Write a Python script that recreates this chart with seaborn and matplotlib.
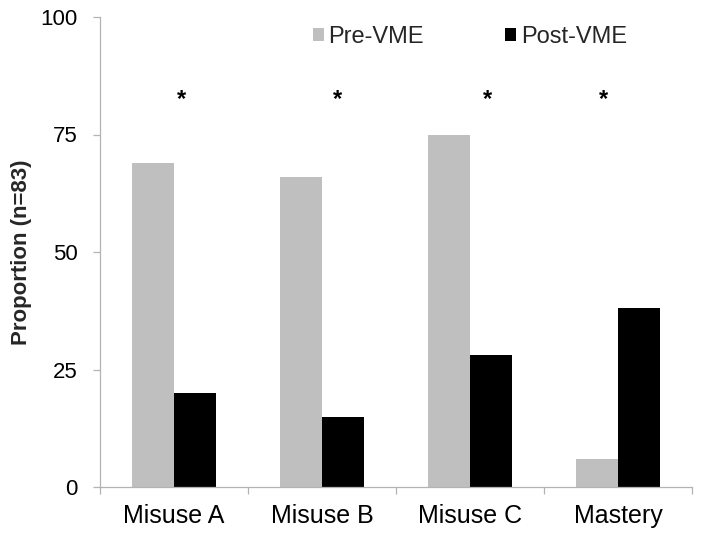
import matplotlib
matplotlib.use("Agg")
import matplotlib.pyplot as plt
import seaborn as sns
import pandas as pd

# ---- data ----
categories = ["Misuse A", "Misuse B", "Misuse C", "Mastery"]
pre_vme = [69, 66, 75, 6]
post_vme = [20, 15, 28, 38]
series_names = ["Pre-VME", "Post-VME"]
y_ticks = [0, 25, 50, 75, 100]
y_label = "Proportion (n=83)"
star_text = "*"
star_x = [0.054, 1.108, 2.115, 2.905]   # annotation positions (category units)
star_y = 81

sns.set_theme(style="white")
plt.rcParams["font.family"] = ["Liberation Sans", "DejaVu Sans"]

df = pd.DataFrame({
    "Category": categories * 2,
    "Series": [series_names[0]] * len(categories) + [series_names[1]] * len(categories),
    "Value": pre_vme + post_vme,
})

fig = plt.figure(figsize=(7.04, 5.35), dpi=100)
ax = fig.add_axes([100 / 704, 48 / 535, 592 / 704, 470 / 535])

sns.barplot(data=df, x="Category", y="Value", hue="Series", order=categories,
            hue_order=series_names, palette=["#BFBFBF", "#000000"],
            width=0.57, gap=0, saturation=1, errorbar=None, ax=ax,
            linewidth=0)

ax.set_xlim(-0.5, len(categories) - 0.5)
ax.set_ylim(0, 100)
ax.set_yticks(y_ticks)
ax.set_yticklabels([str(v) for v in y_ticks])
ax.set_xlabel("")
ax.set_ylabel(y_label, fontsize=16, fontweight="bold", labelpad=6)

spine_col = "#B3B3B3"
for s in ["top", "right"]:
    ax.spines[s].set_visible(False)
for s in ["left", "bottom"]:
    ax.spines[s].set_color(spine_col)
    ax.spines[s].set_linewidth(0.9)

ax.tick_params(axis="y", which="major", length=5, width=0.9, color=spine_col,
               direction="out", left=True, labelsize=16, pad=11, labelcolor="#000000")
ax.set_xticks([i - 0.5 for i in range(len(categories) + 1)], minor=True)
ax.tick_params(axis="x", which="minor", length=5, width=0.9, color=spine_col,
               direction="out", bottom=True)
ax.tick_params(axis="x", which="major", length=0, labelsize=18, pad=12,
               labelcolor="#000000")

for x in star_x:
    ax.text(x, star_y, star_text, ha="center", va="baseline",
            fontsize=17, fontweight="bold", color="#000000")

sns.move_legend(ax, loc="center left",
                bbox_to_anchor=((313 - 100) / 592, (487 - 37) / 470),
                ncol=2, frameon=False, title=None, fontsize=17,
                handlelength=0.45, handleheight=0.45, handletextpad=0.2,
                columnspacing=3.45, borderpad=0, borderaxespad=0)

fig.savefig("out.png", dpi=100)
